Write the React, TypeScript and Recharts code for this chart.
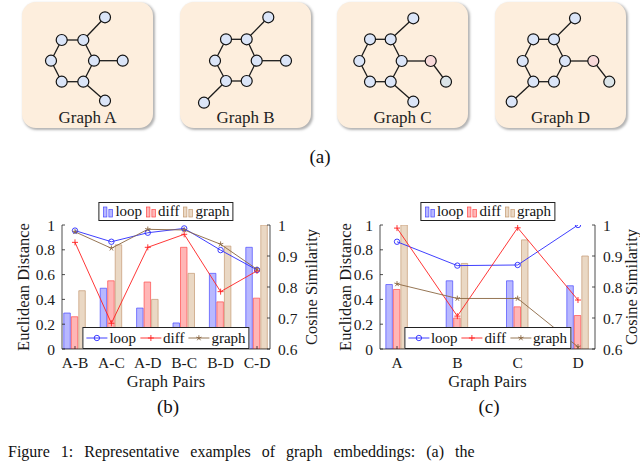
import React from 'react';
import { ComposedChart, Bar, Line, XAxis, YAxis, ScatterChart, Scatter } from 'recharts';

// ---------- (b) pairs of graphs ----------
const pairLabels = ['A-B', 'A-C', 'A-D', 'B-C', 'B-D', 'C-D'];
const pairLoopDist = [0.29, 0.49, 0.33, 0.21, 0.61, 0.82];
const pairDiffDist = [0.26, 0.55, 0.54, 0.82, 0.38, 0.41];
const pairGraphDist = [0.47, 0.84, 0.4, 0.61, 0.83, 1.0];
const pairLoopCos = [0.982, 0.946, 0.975, 0.989, 0.919, 0.855];
const pairDiffCos = [0.944, 0.683, 0.928, 0.97, 0.785, 0.852];
const pairGraphCos = [0.978, 0.925, 0.986, 0.984, 0.938, 0.857];

// ---------- (c) single graphs ----------
const singleLabels = ['A', 'B', 'C', 'D'];
const singleLoopDist = [0.52, 0.55, 0.55, 0.51];
const singleDiffDist = [0.48, 0.25, 0.34, 0.27];
const singleGraphDist = [1.0, 0.69, 0.88, 0.75];
const singleLoopCos = [0.946, 0.869, 0.871, 1.0];
const singleDiffCos = [0.99, 0.706, 0.991, 0.758];
const singleGraphCos = [0.81, 0.763, 0.763, 0.607];

const distTicks = [0, 0.2, 0.4, 0.6, 0.8, 1];
const cosTicks = [0.6, 0.7, 0.8, 0.9, 1];
const seriesNames = ['loop', 'diff', 'graph'];

// ---------- (a) example graphs: nodes (card units) and edges ----------
const ring = [[0, 1], [1, 2], [2, 3], [3, 4], [4, 5], [5, 0]];
const graphANodes = [
  { x: 39.7, y: 38, k: 'n' }, { x: 61.3, y: 38, k: 'n' }, { x: 72, y: 58.7, k: 'n' },
  { x: 61.3, y: 79.7, k: 'n' }, { x: 39.7, y: 79.7, k: 'n' }, { x: 29, y: 58.7, k: 'n' },
  { x: 83, y: 15.3, k: 'n' }, { x: 100.7, y: 58.7, k: 'n' }, { x: 83, y: 98.7, k: 'n' },
];
const graphAEdges = [...ring, [1, 6], [2, 7], [3, 8]];
const graphBNodes = [
  { x: 46, y: 37.3, k: 'n' }, { x: 66.7, y: 37.3, k: 'n' }, { x: 76.7, y: 58.7, k: 'n' },
  { x: 66.7, y: 79, k: 'n' }, { x: 46, y: 79, k: 'n' }, { x: 35, y: 58.7, k: 'n' },
  { x: 88.3, y: 15.3, k: 'n' }, { x: 106, y: 58.7, k: 'n' }, { x: 24, y: 100.7, k: 'n' },
];
const graphBEdges = [...ring, [1, 6], [2, 7], [4, 8]];
const graphCNodes = [
  { x: 33, y: 37.3, k: 'n' }, { x: 53.7, y: 37.3, k: 'n' }, { x: 64.7, y: 59, k: 'n' },
  { x: 53.7, y: 79.7, k: 'n' }, { x: 33, y: 79.7, k: 'n' }, { x: 22.3, y: 59, k: 'n' },
  { x: 76.3, y: 16.3, k: 'n' }, { x: 93.7, y: 59, k: 'p' }, { x: 109, y: 79.7, k: 'g' },
  { x: 76.3, y: 99.7, k: 'n' },
];
const graphCEdges = [...ring, [1, 6], [2, 7], [7, 8], [3, 9]];
const graphDNodes = [
  { x: 38.3, y: 37.3, k: 'n' }, { x: 59, y: 37.3, k: 'n' }, { x: 70, y: 59, k: 'n' },
  { x: 59, y: 79.7, k: 'n' }, { x: 38.3, y: 79.7, k: 'n' }, { x: 27.7, y: 59, k: 'n' },
  { x: 80, y: 16.3, k: 'n' }, { x: 98.3, y: 59, k: 'p' }, { x: 114.3, y: 79.7, k: 'g' },
  { x: 16.7, y: 99.7, k: 'n' },
];
const graphDEdges = [...ring, [1, 6], [2, 7], [7, 8], [4, 9]];

const SERIF = 'Liberation Serif, DejaVu Serif, serif';
const AXIS = '#222';
const COLORS: Record<string, { line: string; fill: string; edge: string }> = {
  loop: { line: '#2a2aff', fill: '#b8b8ff', edge: '#4a4aff' },
  diff: { line: '#ff2020', fill: '#ffb6b6', edge: '#ff4a4a' },
  graph: { line: '#8a6642', fill: '#ead8c4', edge: '#c49a72' },
};
const NODE_FILL: Record<string, string> = { n: '#dbe5f8', p: '#f8d9d9', g: '#dbe4e8' };

function Marker({ kind, cx, cy }: { kind: string; cx: number; cy: number }) {
  const c = COLORS[kind].line;
  if (kind === 'loop') return <circle cx={cx} cy={cy} r={2.7} fill="none" stroke={c} strokeWidth={0.9} />;
  if (kind === 'diff')
    return <path d={`M${cx - 3},${cy}H${cx + 3}M${cx},${cy - 3}V${cy + 3}`} stroke={c} strokeWidth={0.9} />;
  let d = '';
  for (let k = 0; k < 5; k++) {
    const a = -Math.PI / 2 + (k * 2 * Math.PI) / 5;
    d += `M${cx},${cy}L${cx + 2.8 * Math.cos(a)},${cy + 2.8 * Math.sin(a)}`;
  }
  return <path d={d} stroke={c} strokeWidth={0.9} fill="none" />;
}

function GraphCard({ left, title, nodes, edges }: any) {
  return (
    <div
      style={{
        position: 'absolute', left, top: 2, width: 131, height: 126, background: '#fdeedd',
        borderRadius: 14, boxShadow: '1.5px 1.5px 2.5px rgba(0,0,0,0.3)',
      }}
    >
      <ScatterChart width={131} height={126} margin={{ top: 0, right: 0, bottom: 0, left: 0 }}>
        <XAxis type="number" dataKey="x" domain={[0, 131]} hide />
        <YAxis type="number" dataKey="y" domain={[0, 126]} reversed hide />
        {edges.map(([a, b]: number[], i: number) => (
          <Scatter
            key={`e${i}`}
            data={[nodes[a], nodes[b]]}
            line={{ stroke: '#1a1a1a', strokeWidth: 1.3 }}
            shape={() => <g />}
            isAnimationActive={false}
          />
        ))}
        <Scatter
          data={nodes}
          isAnimationActive={false}
          shape={(p: any) => (
            <circle cx={p.cx} cy={p.cy} r={5.5} fill={NODE_FILL[p.payload.k]} stroke="#111" strokeWidth={1.2} />
          )}
        />
      </ScatterChart>
      <div
        style={{
          position: 'absolute', left: 0, width: '100%', top: 106.5, textAlign: 'center',
          fontSize: 17, lineHeight: '17px', fontFamily: SERIF, color: '#222',
        }}
      >
        {title}
      </div>
    </div>
  );
}

function BarLegend() {
  return (
    <>
      {seriesNames.map((s) => (
        <span key={s} style={{ display: 'inline-flex', alignItems: 'center', marginRight: 2 }}>
          <svg width={13} height={13} style={{ marginRight: 1 }}>
            <rect x={2} y={2} width={3.5} height={10} fill={COLORS[s].fill} stroke={COLORS[s].edge} strokeWidth={0.7} />
            <rect x={7.5} y={4.5} width={3.5} height={7.5} fill={COLORS[s].fill} stroke={COLORS[s].edge} strokeWidth={0.7} />
          </svg>
          {s}
        </span>
      ))}
    </>
  );
}

function LineLegend() {
  return (
    <>
      {seriesNames.map((s) => (
        <span key={s} style={{ display: 'inline-flex', alignItems: 'center', marginRight: 3 }}>
          <svg width={23} height={12} style={{ marginRight: 1 }}>
            <line x1={1} x2={22} y1={6} y2={6} stroke={COLORS[s].line} strokeWidth={0.9} />
            <Marker kind={s} cx={11.5} cy={6} />
          </svg>
          {s}
        </span>
      ))}
    </>
  );
}

function ComparisonChart({ categories, loopDist, diffDist, graphDist, loopCos, diffCos, graphCos, leftWidth, rightWidth, pad, leftTitleX, rightTitleX }: any) {
  const W = 320;
  const H = 210;
  const plotTop = 35;
  const plotBottom = 159;
  const plotLeft = leftWidth;
  const plotRight = W - rightWidth;
  const midX = (plotLeft + plotRight) / 2;
  const midY = (plotTop + plotBottom) / 2;
  const data = categories.map((name: string, i: number) => ({
    idx: i, name,
    loopDist: loopDist[i], diffDist: diffDist[i], graphDist: graphDist[i],
    loopCos: loopCos[i], diffCos: diffCos[i], graphCos: graphCos[i],
  }));
  const idxTicks = categories.map((_: string, i: number) => i);
  const domain = [-pad, categories.length - 1 + pad];
  const tick = { fontSize: 15.5, fontFamily: SERIF, fill: '#1a1a1a' };
  const line = { stroke: AXIS, strokeWidth: 0.8 };
  const titleStyle = { fontSize: 16.5, fontFamily: SERIF, fill: '#1a1a1a' };

  return (
    <div style={{ position: 'relative', width: W, height: H }}>
      <ComposedChart width={W} height={H} data={data} margin={{ top: plotTop, right: 0, bottom: 21, left: 0 }} barSize={6.5} barGap={1}>
        <XAxis
          xAxisId="b" type="number" dataKey="idx" domain={domain} ticks={idxTicks} allowDataOverflow
          tickFormatter={(v: number) => categories[v]} height={30} tickSize={-3} tickMargin={10.5}
          tick={tick} axisLine={line} tickLine={line}
          label={() => (
            <text x={midX} y={plotBottom + 38} textAnchor="middle" style={titleStyle}>Graph Pairs</text>
          )}
        />
        <XAxis
          xAxisId="t" orientation="top" type="number" dataKey="idx" domain={domain} ticks={idxTicks} allowDataOverflow
          tickFormatter={() => ''} height={0} tickSize={-3} axisLine={line} tickLine={line}
        />
        <YAxis
          yAxisId="l" domain={[0, 1]} ticks={distTicks} width={leftWidth} tickSize={-3} tickMargin={10}
          tick={tick} axisLine={line} tickLine={line} allowDataOverflow
          label={() => (
            <text x={leftTitleX} y={midY} textAnchor="middle" dominantBaseline="central" transform={`rotate(-90 ${leftTitleX} ${midY})`} style={titleStyle}>
              Euclidean Distance
            </text>
          )}
        />
        <YAxis
          yAxisId="r" orientation="right" domain={[0.6, 1]} ticks={cosTicks} width={rightWidth} tickSize={-3} tickMargin={11}
          tick={tick} axisLine={line} tickLine={line} allowDataOverflow
          label={() => (
            <text x={rightTitleX} y={midY} textAnchor="middle" dominantBaseline="central" transform={`rotate(-90 ${rightTitleX} ${midY})`} style={titleStyle}>
              Cosine Similarity
            </text>
          )}
        />
        {seriesNames.map((s) => (
          <Bar key={`bar-${s}`} xAxisId="b" yAxisId="l" dataKey={`${s}Dist`} fill={COLORS[s].fill} stroke={COLORS[s].edge} strokeWidth={0.7} isAnimationActive={false} />
        ))}
        {seriesNames.map((s) => (
          <Line
            key={`line-${s}`} xAxisId="b" yAxisId="r" dataKey={`${s}Cos`} type="linear"
            stroke={COLORS[s].line} strokeWidth={0.9} isAnimationActive={false}
            dot={(p: any) => <Marker key={`${s}-${p.index}`} kind={s} cx={p.cx} cy={p.cy} />}
            activeDot={false}
          />
        ))}
      </ComposedChart>
      <div
        style={{
          position: 'absolute', left: midX, top: 12, height: 18.5, transform: 'translateX(-50%)', boxSizing: 'border-box',
          border: `1px solid ${AXIS}`, background: '#fff', display: 'flex', alignItems: 'center', whiteSpace: 'nowrap',
          padding: '0 1px 0 2px', fontSize: 15, fontFamily: SERIF, color: '#111',
        }}
      >
        <BarLegend />
      </div>
      <div
        style={{
          position: 'absolute', left: midX, top: 137, height: 22, transform: 'translateX(-50%)', boxSizing: 'border-box',
          border: `1px solid ${AXIS}`, background: '#fff', display: 'flex', alignItems: 'center', whiteSpace: 'nowrap',
          padding: '0 0 0 2px', fontSize: 15, fontFamily: SERIF, color: '#111',
        }}
      >
        <LineLegend />
      </div>
    </div>
  );
}

const panelLabel = { position: 'absolute' as const, fontSize: 19, fontFamily: SERIF, color: '#111', lineHeight: '19px', transform: 'translateX(-50%)', whiteSpace: 'nowrap' as const };

export default function App() {
  return (
    <div style={{ position: 'relative', width: 640, height: 462, overflow: 'hidden', background: '#fff' }}>
      <style>{'body{margin:0}'}</style>
      <GraphCard left={22} title="Graph A" nodes={graphANodes} edges={graphAEdges} />
      <GraphCard left={180} title="Graph B" nodes={graphBNodes} edges={graphBEdges} />
      <GraphCard left={337} title="Graph C" nodes={graphCNodes} edges={graphCEdges} />
      <GraphCard left={495} title="Graph D" nodes={graphDNodes} edges={graphDEdges} />
      <div style={{ ...panelLabel, left: 320, top: 147 }}>(a)</div>

      <div style={{ position: 'absolute', left: 0, top: 190 }}>
        <ComparisonChart
          categories={pairLabels} loopDist={pairLoopDist} diffDist={pairDiffDist} graphDist={pairGraphDist}
          loopCos={pairLoopCos} diffCos={pairDiffCos} graphCos={pairGraphCos}
          leftWidth={62} rightWidth={50} pad={0.357} leftTitleX={23} rightTitleX={311}
        />
      </div>
      <div style={{ position: 'absolute', left: 320, top: 190 }}>
        <ComparisonChart
          categories={singleLabels} loopDist={singleLoopDist} diffDist={singleDiffDist} graphDist={singleGraphDist}
          loopCos={singleLoopCos} diffCos={singleDiffCos} graphCos={singleGraphCos}
          leftWidth={60} rightWidth={45} pad={0.282} leftTitleX={25} rightTitleX={311}
        />
      </div>
      <div style={{ ...panelLabel, left: 168, top: 397 }}>(b)</div>
      <div style={{ ...panelLabel, left: 489, top: 397 }}>(c)</div>
      <div style={{ position: 'absolute', left: 8, top: 444, fontSize: 16, fontFamily: SERIF, color: '#111', whiteSpace: 'nowrap', lineHeight: '16px', wordSpacing: 7 }}>
        Figure 1: Representative examples of graph embeddings: (a) the
      </div>
    </div>
  );
}
